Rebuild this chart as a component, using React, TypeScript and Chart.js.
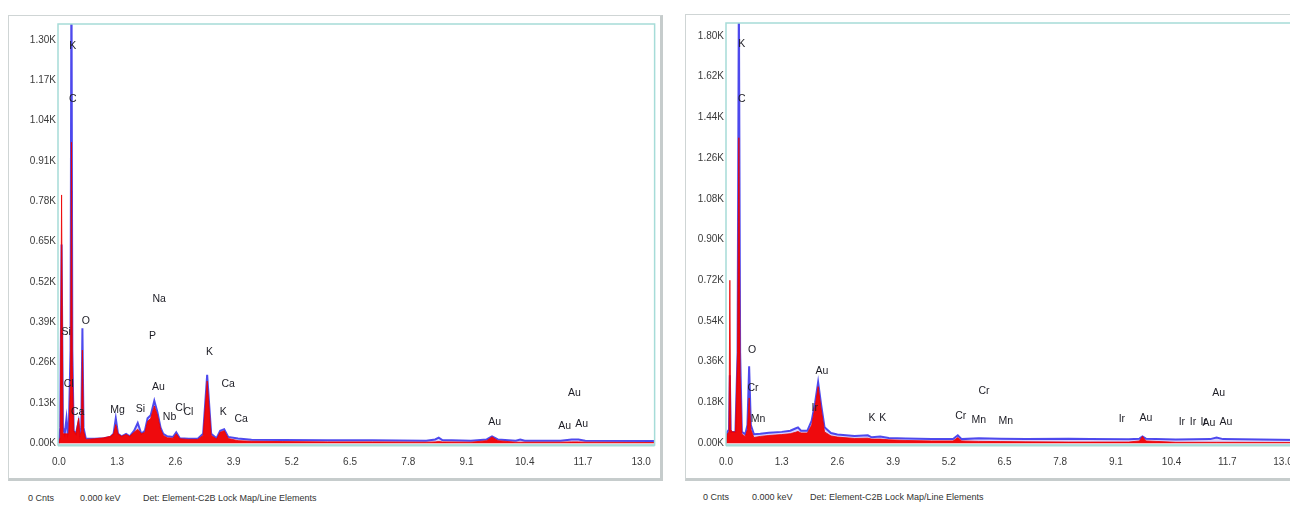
import React, { useEffect, useRef } from "react";
import { Chart, registerables } from "chart.js";

Chart.register(...registerables);

// ---------- DATA ----------
const xTickValues = [0, 1.3, 2.6, 3.9, 5.2, 6.5, 7.8, 9.1, 10.4, 11.7, 13.0];
const leftYTicks = [0, 0.13, 0.26, 0.39, 0.52, 0.65, 0.78, 0.91, 1.04, 1.17, 1.3];
const rightYTicks = [0, 0.18, 0.36, 0.54, 0.72, 0.9, 1.08, 1.26, 1.44, 1.62, 1.8];

// Left spectrum (keV, counts in K)
const leftKeV = [
  0.0, 0.03, 0.06, 0.09, 0.13, 0.17, 0.2, 0.22, 0.26, 0.28, 0.3, 0.33, 0.38, 0.44, 0.47,
  0.5, 0.525, 0.55, 0.6, 0.8, 1.0, 1.15, 1.22, 1.27, 1.32, 1.4, 1.5, 1.58, 1.68, 1.76,
  1.84, 1.92, 1.98, 2.05, 2.13, 2.2, 2.27, 2.33, 2.42, 2.55, 2.62, 2.7, 2.9, 3.1, 3.22,
  3.31, 3.4, 3.52, 3.6, 3.69, 3.78, 4.0, 4.3, 5.0, 6.0, 7.0, 8.2, 8.4, 8.48, 8.56,
  9.2, 9.55, 9.67, 9.8, 10.2, 10.3, 10.4, 11.2, 11.45, 11.6, 11.75, 13.3,
];
const leftBlue = [
  0.0, 0.05, 0.64, 0.05, 0.03, 0.08, 0.03, 0.04, 0.3, 1.6, 0.3, 0.04, 0.03, 0.07, 0.03,
  0.05, 0.37, 0.05, 0.015, 0.014, 0.016, 0.02, 0.03, 0.08, 0.03, 0.022, 0.03, 0.022, 0.04, 0.065,
  0.03, 0.04, 0.08, 0.09, 0.137, 0.1, 0.05, 0.03, 0.022, 0.02, 0.035, 0.016, 0.014, 0.014, 0.03,
  0.22, 0.03, 0.016, 0.04, 0.045, 0.02, 0.015, 0.011, 0.01, 0.009, 0.009, 0.008, 0.012, 0.018, 0.01,
  0.008, 0.012, 0.022, 0.012, 0.008, 0.012, 0.008, 0.008, 0.012, 0.012, 0.008, 0.007,
];
const leftRed = [
  0.0, 0.02, 0.8, 0.03, 0.03, 0.03, 0.03, 0.03, 0.2, 0.97, 0.25, 0.04, 0.03, 0.08, 0.02,
  0.04, 0.3, 0.04, 0.012, 0.014, 0.017, 0.022, 0.03, 0.06, 0.03, 0.022, 0.028, 0.022, 0.035, 0.045,
  0.03, 0.035, 0.07, 0.08, 0.12, 0.09, 0.045, 0.025, 0.017, 0.016, 0.03, 0.014, 0.012, 0.012, 0.025,
  0.2, 0.025, 0.013, 0.035, 0.04, 0.015, 0.008, 0.006, 0.005, 0.004, 0.004, 0.003, 0.004, 0.005, 0.004,
  0.003, 0.008, 0.02, 0.008, 0.003, 0.003, 0.003, 0.003, 0.004, 0.004, 0.003, 0.002,
];

// Right spectrum (keV, counts in K)
const rightKeV = [
  0.0, 0.03, 0.07, 0.09, 0.11, 0.15, 0.22, 0.27, 0.3, 0.33, 0.37, 0.45, 0.5, 0.54, 0.58,
  0.65, 0.8, 1.0, 1.3, 1.5, 1.62, 1.68, 1.75, 1.9, 2.0, 2.08, 2.15, 2.22, 2.3, 2.45,
  2.6, 3.0, 3.31, 3.4, 3.6, 3.8, 4.2, 4.8, 5.3, 5.41, 5.5, 5.9, 6.4, 7.0, 8.0,
  8.5, 9.4, 9.65, 9.72, 9.8, 10.5, 11.3, 11.45, 11.6, 13.4,
];
const rightBlue = [
  0.0, 0.05, 0.06, 0.3, 0.05, 0.05, 0.05, 0.4, 2.0, 0.4, 0.05, 0.04, 0.08, 0.34, 0.08,
  0.04, 0.042, 0.046, 0.05, 0.055, 0.065, 0.07, 0.055, 0.055, 0.1, 0.18, 0.27, 0.17, 0.07, 0.045,
  0.038, 0.032, 0.035, 0.026, 0.03, 0.023, 0.021, 0.019, 0.018, 0.035, 0.018, 0.022, 0.02, 0.018, 0.02,
  0.018, 0.017, 0.02, 0.03, 0.02, 0.016, 0.018, 0.025, 0.018, 0.014,
];
const rightRed = [
  0.0, 0.04, 0.05, 0.72, 0.06, 0.05, 0.05, 0.4, 1.35, 0.3, 0.04, 0.03, 0.06, 0.2, 0.06,
  0.025, 0.03, 0.034, 0.038, 0.042, 0.048, 0.052, 0.045, 0.045, 0.08, 0.16, 0.25, 0.15, 0.05, 0.032,
  0.027, 0.021, 0.022, 0.018, 0.018, 0.015, 0.012, 0.01, 0.01, 0.025, 0.01, 0.008, 0.007, 0.006, 0.005,
  0.005, 0.005, 0.01, 0.03, 0.01, 0.004, 0.004, 0.004, 0.004, 0.003,
];

// Element labels: [text, keV, K counts]
const leftLabels: [string, number, number][] = [
  ["K", 0.31, 1.28], ["C", 0.31, 1.11], ["Na", 2.24, 0.463], ["P", 2.09, 0.345],
  ["O", 0.6, 0.393], ["Si", 0.16, 0.358], ["Cl", 0.22, 0.19], ["Ca", 0.42, 0.1],
  ["Mg", 1.31, 0.105], ["Si", 1.82, 0.109], ["Au", 2.22, 0.182], ["Nb", 2.47, 0.083],
  ["Cl", 2.71, 0.112], ["Cl", 2.89, 0.099], ["K", 3.36, 0.294], ["Ca", 3.78, 0.189],
  ["K", 3.67, 0.099], ["Ca", 4.07, 0.077], ["Au", 9.73, 0.067], ["Au", 11.51, 0.16],
  ["Au", 11.29, 0.054], ["Au", 11.67, 0.061],
];
const rightLabels: [string, number, number][] = [
  ["K", 0.37, 1.765], ["C", 0.37, 1.52], ["O", 0.61, 0.41], ["Cr", 0.63, 0.245],
  ["Mn", 0.75, 0.105], ["Au", 2.24, 0.32], ["Ir", 2.07, 0.155], ["K", 3.41, 0.11],
  ["K", 3.66, 0.11], ["Cr", 5.48, 0.118], ["Cr", 6.02, 0.232], ["Mn", 5.9, 0.1],
  ["Mn", 6.53, 0.096], ["Ir", 9.24, 0.105], ["Au", 9.8, 0.11], ["Ir", 10.64, 0.092],
  ["Ir", 10.9, 0.092], ["Ir", 11.15, 0.092], ["Au", 11.27, 0.088], ["Au", 11.67, 0.092],
  ["Au", 11.5, 0.223],
];

const FONT = "'Liberation Sans', Arial, sans-serif";

type SpecProps = {
  keV: number[];
  blue: number[];
  red: number[];
  yTicks: number[];
  labels: [string, number, number][];
  xMin: number;
  xMax: number;
  yMin: number;
  yMax: number;
  left: number;
  top: number;
  width: number;
  height: number;
  axisW: number;
  axisH: number;
  padTop: number;
  padRight: number;
};

function Spectrum(p: SpecProps) {
  const ref = useRef<HTMLCanvasElement>(null);
  useEffect(() => {
    const framePlugin = {
      id: "frame",
      afterDatasetsDraw(chart: any) {
        const { ctx, chartArea: a } = chart;
        ctx.save();
        ctx.strokeStyle = "#a6dcd8";
        ctx.lineWidth = 1.5;
        ctx.strokeRect(a.left, a.top, a.right - a.left, a.bottom - a.top);
        ctx.lineWidth = 2;
        ctx.beginPath();
        ctx.moveTo(a.left, a.bottom + 0.5);
        ctx.lineTo(a.right, a.bottom + 0.5);
        ctx.stroke();
        ctx.restore();
      },
    };
    const labelPlugin = {
      id: "elabels",
      afterDatasetsDraw(chart: any) {
        const { ctx } = chart;
        const xs = chart.scales.x;
        const ys = chart.scales.y;
        ctx.save();
        ctx.font = `10.5px ${FONT}`;
        ctx.fillStyle = "#1c1c24";
        ctx.textAlign = "center";
        ctx.textBaseline = "middle";
        p.labels.forEach(([t, x, y]) => {
          ctx.fillText(t, xs.getPixelForValue(x), ys.getPixelForValue(y));
        });
        ctx.restore();
      },
    };
    const tickFont = { family: FONT, size: 10 };
    const chart = new Chart(ref.current!, {
      type: "line",
      data: {
        datasets: [
          {
            data: p.keV.map((x, i) => ({ x, y: p.red[i] })),
            borderColor: "rgba(236,0,0,1)",
            backgroundColor: "rgba(240,0,0,0.95)",
            fill: "origin",
            borderWidth: 0.8,
            pointRadius: 0,
            tension: 0,
          },
          {
            data: p.keV.map((x, i) => ({ x, y: p.blue[i] })),
            borderColor: "rgba(60,55,235,0.9)",
            backgroundColor: "rgba(125,105,255,0.3)",
            fill: "origin",
            borderWidth: 2,
            pointRadius: 0,
            tension: 0,
          },
        ],
      },
      options: {
        responsive: false,
        animation: false,
        devicePixelRatio: 1,
        layout: { padding: { top: p.padTop, right: p.padRight, left: 0, bottom: 0 } },
        plugins: { legend: { display: false }, tooltip: { enabled: false } },
        scales: {
          x: {
            type: "linear",
            min: p.xMin,
            max: p.xMax,
            afterBuildTicks: (s: any) => {
              s.ticks = xTickValues.map((v) => ({ value: v }));
            },
            afterFit: (s: any) => {
              s.height = p.axisH;
            },
            ticks: {
              callback: (v: any) => Number(v).toFixed(1),
              padding: 11,
              autoSkip: false,
              maxRotation: 0,
              color: "#3a3a3a",
              font: tickFont,
            },
            grid: { display: false, drawTicks: false },
            border: { display: false },
          },
          y: {
            type: "linear",
            min: p.yMin,
            max: p.yMax,
            afterBuildTicks: (s: any) => {
              s.ticks = p.yTicks.map((v) => ({ value: v }));
            },
            afterFit: (s: any) => {
              s.width = p.axisW;
            },
            ticks: {
              callback: (v: any) => Number(v).toFixed(2) + "K",
              padding: 2,
              autoSkip: false,
              color: "#3a3a3a",
              font: tickFont,
            },
            grid: { display: false, drawTicks: false },
            border: { display: false },
          },
        },
      } as any,
      plugins: [framePlugin, labelPlugin],
    });
    return () => chart.destroy();
  }, []);
  return (
    <canvas
      ref={ref}
      width={p.width}
      height={p.height}
      style={{ position: "absolute", left: p.left, top: p.top, width: p.width, height: p.height }}
    />
  );
}

const footStyle: React.CSSProperties = {
  position: "absolute",
  fontFamily: FONT,
  fontSize: 9,
  color: "#333",
  whiteSpace: "nowrap",
  lineHeight: "12px",
};

export default function App() {
  return (
    <div
      style={{
        position: "absolute",
        left: 0,
        top: 0,
        width: 1290,
        height: 506,
        overflow: "hidden",
        background: "#fff",
      }}
    >
      {/* left frame */}
      <div
        style={{
          position: "absolute",
          left: 8,
          top: 15,
          width: 655,
          height: 466,
          boxSizing: "border-box",
          border: "1px solid #cfd5d5",
          borderRight: "3px solid #c6cccc",
          borderBottom: "3px solid #c6cccc",
        }}
      />
      {/* right frame */}
      <div
        style={{
          position: "absolute",
          left: 685,
          top: 14,
          width: 640,
          height: 467,
          boxSizing: "border-box",
          border: "1px solid #cfd5d5",
          borderBottom: "3px solid #c6cccc",
        }}
      />
      <Spectrum
        keV={leftKeV}
        blue={leftBlue}
        red={leftRed}
        yTicks={leftYTicks}
        labels={leftLabels}
        xMin={-0.02}
        xMax={13.3}
        yMin={-0.006}
        yMax={1.351}
        left={8}
        top={16}
        width={654}
        height={465}
        axisW={50}
        axisH={36}
        padTop={4}
        padRight={4}
      />
      <Spectrum
        keV={rightKeV}
        blue={rightBlue}
        red={rightRed}
        yTicks={rightYTicks}
        labels={rightLabels}
        xMin={0}
        xMax={13.35}
        yMin={-0.008}
        yMax={1.857}
        left={684}
        top={15}
        width={621}
        height={466}
        axisW={42}
        axisH={36}
        padTop={4}
        padRight={7}
      />
      <div style={{ ...footStyle, left: 28, top: 492 }}>0 Cnts</div>
      <div style={{ ...footStyle, left: 80, top: 492 }}>0.000 keV</div>
      <div style={{ ...footStyle, left: 143, top: 492 }}>Det: Element-C2B Lock Map/Line Elements</div>
      <div style={{ ...footStyle, left: 703, top: 491 }}>0 Cnts</div>
      <div style={{ ...footStyle, left: 752, top: 491 }}>0.000 keV</div>
      <div style={{ ...footStyle, left: 810, top: 491 }}>Det: Element-C2B Lock Map/Line Elements</div>
    </div>
  );
}
